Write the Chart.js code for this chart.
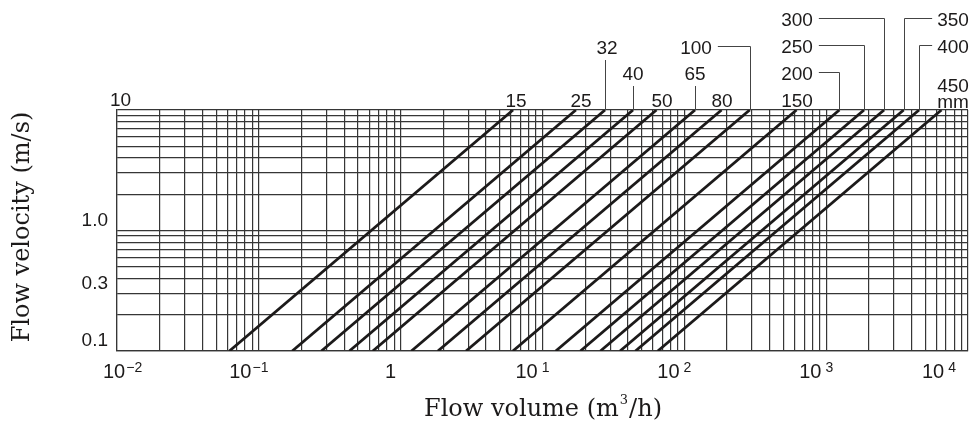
<!DOCTYPE html>
<html>
<head>
<meta charset="utf-8">
<title>Flow velocity vs flow volume</title>
<script src="https://cdn.jsdelivr.net/npm/chart.js@4.4.0/dist/chart.umd.min.js"></script>
<style>
  html, body { margin: 0; padding: 0; background: #fff; }
  canvas { display: block; }
</style>
</head>
<body>
<canvas id="chart" width="970" height="422"></canvas>
<script>
// pipe sizes (mm) and where each line meets the bottom (0.1 m/s) and top (10 m/s) of the grid, in m3/h
const diameters = [15, 25, 32, 40, 50, 65, 80, 100, 150, 200, 250, 300, 350, 400, 450];
const flowAtMinSpeed = [0.062, 0.172, 0.276, 0.435, 0.636, 1.19, 1.83, 2.89, 6.18, 12.4, 18.5, 25.6, 35.2, 45.2, 65.0];
const flowAtMaxSpeed = [6.2, 17.2, 27.6, 43.5, 63.6, 119, 183, 289, 618, 1240, 1850, 2560, 3520, 4520, 6500];
const speedRange = [0.1, 10];
const flowRange = [0.01, 10000];
const xTickExponents = [-2, -1, 0, 1, 2, 3, 4];
const yTickValues = [0.1, 0.3, 1];
const yTickLabels = ['0.1', '0.3', '1.0'];

const ink = '#1c1a1a';
const gridColor = '#363636';
const sansFont = '"Liberation Sans", Arial, sans-serif';
const serifFont = '"DejaVu Serif", "Liberation Serif", serif';

// where the size labels sit above the grid and how they point at their line
const sizeLabelLayout = {
  15:  { x: 516, y: 100 },
  25:  { x: 581, y: 100 },
  32:  { x: 607, y: 47, leader: 'down' },
  40:  { x: 633, y: 73, leader: 'down' },
  50:  { x: 662, y: 100 },
  65:  { x: 695, y: 73, leader: 'down' },
  80:  { x: 722, y: 100 },
  100: { x: 696, y: 47, leader: 'right' },
  150: { x: 797, y: 100 },
  200: { x: 797, y: 73, leader: 'right' },
  250: { x: 797, y: 46, leader: 'right' },
  300: { x: 797, y: 19, leader: 'right' },
  350: { x: 953, y: 19, leader: 'left' },
  400: { x: 953, y: 46, leader: 'left' },
  450: { x: 953, y: 85, unit: 'mm' }
};

// log paper: a line at every 1..9 of each decade
function logGrid(minExp, maxExp) {
  const values = [];
  for (let e = minExp; e < maxExp; e++) {
    for (let m = 1; m < 10; m++) values.push(parseFloat((m * Math.pow(10, e)).toPrecision(3)));
  }
  values.push(Math.pow(10, maxExp));
  return values;
}

const datasets = diameters.map((d, i) => ({
  label: d + ' mm',
  data: [
    { x: flowAtMinSpeed[i], y: speedRange[0] },
    { x: flowAtMaxSpeed[i], y: speedRange[1] }
  ],
  borderColor: ink,
  borderWidth: 2.8,
  pointRadius: 0,
  fill: false,
  tension: 0
}));

const chartText = {
  id: 'chartText',
  afterDraw(chart) {
    const { ctx, chartArea, scales } = chart;
    const xs = scales.x;
    ctx.save();
    ctx.fillStyle = ink;
    ctx.textBaseline = 'alphabetic';

    // x tick labels 10^n
    xTickExponents.forEach(e => {
      const px = xs.getPixelForValue(Math.pow(10, e));
      const base = e === 0 ? '1' : '10';
      const sup = e === 0 ? '' : (e < 0 ? '\u2212' + Math.abs(e) : String(e));
      ctx.font = '20px ' + sansFont;
      const wb = ctx.measureText(base).width;
      ctx.font = '14px ' + sansFont;
      const gap = e > 0 ? 4 : 1;
      const ws = sup ? ctx.measureText(sup).width + gap : 0;
      const w = wb + ws;
      let left = px - 10 - w / 2;
      left = Math.max(left, chartArea.left - 14);
      left = Math.min(left, chartArea.right - 12 - w);
      ctx.textAlign = 'left';
      ctx.font = '20px ' + sansFont;
      ctx.fillText(base, left, 378);
      if (sup) {
        ctx.font = '14px ' + sansFont;
        ctx.fillText(sup, left + wb + gap, 372);
      }
    });

    // top value of the velocity axis
    ctx.font = '19px ' + sansFont;
    ctx.textAlign = 'left';
    ctx.fillText('10', chartArea.left - 7, chartArea.top - 4);

    // pipe size labels and leaders
    ctx.strokeStyle = '#444';
    ctx.lineWidth = 1;
    diameters.forEach((d, i) => {
      const lay = sizeLabelLayout[d];
      const text = String(d);
      ctx.font = '19px ' + sansFont;
      ctx.textAlign = 'center';
      ctx.fillText(text, lay.x, lay.y + 7);
      if (lay.unit) ctx.fillText(lay.unit, lay.x, lay.y + 23);
      const w = ctx.measureText(text).width;
      const lx = Math.round(xs.getPixelForValue(flowAtMaxSpeed[i])) + 0.5;
      const ly = Math.round(lay.y) - 0.5;
      ctx.beginPath();
      if (lay.leader === 'down') {
        ctx.moveTo(lx, lay.y + 13);
        ctx.lineTo(lx, chartArea.top);
      } else if (lay.leader === 'right') {
        ctx.moveTo(lay.x + w / 2 + 6, ly);
        ctx.lineTo(lx, ly);
        ctx.lineTo(lx, chartArea.top);
      } else if (lay.leader === 'left') {
        ctx.moveTo(lay.x - w / 2 - 5, ly);
        ctx.lineTo(lx, ly);
        ctx.lineTo(lx, chartArea.top);
      }
      ctx.stroke();
    });

    // axis titles
    ctx.font = '24px ' + serifFont;
    ctx.textAlign = 'center';
    ctx.save();
    ctx.translate(29, 227);
    ctx.rotate(-Math.PI / 2);
    ctx.fillText('Flow velocity (m/s)', 0, 0);
    ctx.restore();

    const t1 = 'Flow volume (m', t2 = '3', t3 = '/h)';
    ctx.font = '24px ' + serifFont;
    const w1 = ctx.measureText(t1).width, w3 = ctx.measureText(t3).width;
    ctx.font = '13px ' + serifFont;
    const w2 = ctx.measureText(t2).width + 2;
    let tx = 543 - (w1 + w2 + w3) / 2;
    ctx.textAlign = 'left';
    ctx.font = '24px ' + serifFont;
    ctx.fillText(t1, tx, 416);
    ctx.font = '13px ' + serifFont;
    ctx.fillText(t2, tx + w1 + 1, 404);
    ctx.font = '24px ' + serifFont;
    ctx.fillText(t3, tx + w1 + w2, 416);

    ctx.restore();
  }
};

new Chart(document.getElementById('chart'), {
  type: 'line',
  data: { datasets },
  options: {
    responsive: false,
    animation: false,
    layout: { padding: { top: 110, right: 2, left: 0, bottom: 0 } },
    plugins: { legend: { display: false }, tooltip: { enabled: false } },
    scales: {
      x: {
        type: 'logarithmic',
        min: flowRange[0],
        max: flowRange[1],
        afterBuildTicks: axis => { axis.ticks = logGrid(-2, 4).map(v => ({ value: v })); },
        afterFit: axis => { axis.height = 71; },
        grid: { color: gridColor, lineWidth: 1.2, drawTicks: false },
        border: { color: gridColor, width: 1.2 },
        ticks: { display: false, autoSkip: false }
      },
      y: {
        type: 'logarithmic',
        min: speedRange[0],
        max: speedRange[1],
        afterBuildTicks: axis => { axis.ticks = logGrid(-1, 1).map(v => ({ value: v })); },
        afterFit: axis => { axis.width = 117; },
        grid: { color: gridColor, lineWidth: 1.2, drawTicks: false },
        border: { color: gridColor, width: 1.2 },
        ticks: {
          autoSkip: false,
          padding: 9,
          labelOffset: -10,
          color: ink,
          font: { family: sansFont, size: 19 },
          callback: value => {
            const i = yTickValues.indexOf(value);
            return i >= 0 ? yTickLabels[i] : '';
          }
        }
      }
    }
  },
  plugins: [chartText]
});
</script>
</body>
</html>
